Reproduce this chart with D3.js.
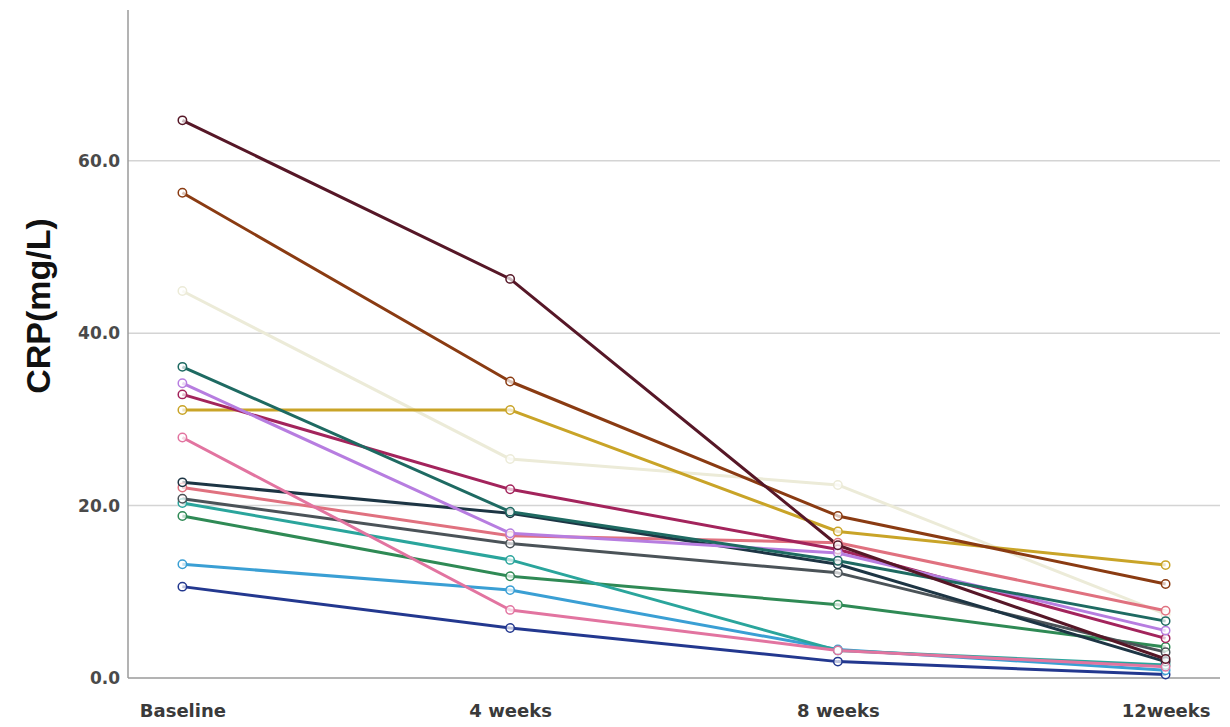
<!DOCTYPE html>
<html>
<head>
<meta charset="utf-8">
<script src="https://cdn.jsdelivr.net/npm/d3@7"></script>
<style>
  html, body { margin: 0; padding: 0; background: #ffffff; }
  svg { display: block; }
</style>
</head>
<body>
<svg id="chart" width="1230" height="727"></svg>
<script>
// Visit labels along the x axis
const visits = ["Baseline", "4 weeks", "8 weeks", "12weeks"];

// CRP per patient at each visit (mg/L)
const patientMaroon   = [64.7, 46.3, 15.4, 2.2];
const patientBrown    = [56.3, 34.4, 18.8, 10.9];
const patientCream    = [44.9, 25.4, 22.4, 7.4];
const patientDarkTeal = [36.1, 19.3, 13.6, 6.6];
const patientPurple   = [34.2, 16.8, 14.5, 5.5];
const patientCrimson  = [32.9, 21.9, 14.9, 4.6];
const patientGold     = [31.1, 31.1, 17.0, 13.1];
const patientPink     = [27.9, 7.9, 3.2, 1.3];
const patientSlate    = [22.7, 19.1, 13.2, 1.9];
const patientSalmon   = [22.1, 16.5, 15.7, 7.8];
const patientGrey     = [20.8, 15.6, 12.2, 3.0];
const patientCyan     = [20.3, 13.7, 3.2, 1.5];
const patientGreen    = [18.8, 11.8, 8.5, 3.6];
const patientSky      = [13.2, 10.2, 3.3, 0.9];
const patientNavy     = [10.6, 5.8, 1.9, 0.4];

const yTicks = [0, 20, 40, 60];
const yTickLabels = ["0.0", "20.0", "40.0", "60.0"];

const series = [
  { values: patientCream,    color: "#ecebd8" },
  { values: patientNavy,     color: "#23388f" },
  { values: patientSky,      color: "#3a9fd4" },
  { values: patientGreen,    color: "#2f8a55" },
  { values: patientCyan,     color: "#2aa59c" },
  { values: patientGrey,     color: "#4b5358" },
  { values: patientSalmon,   color: "#e0717f" },
  { values: patientSlate,    color: "#1d3544" },
  { values: patientPink,     color: "#e274a0" },
  { values: patientGold,     color: "#c9a428" },
  { values: patientCrimson,  color: "#a3245c" },
  { values: patientPurple,   color: "#b77de0" },
  { values: patientDarkTeal, color: "#1e6a62" },
  { values: patientBrown,    color: "#8a3b12" },
  { values: patientMaroon,   color: "#561727" }
];

const svg = d3.select("#chart");
const plotLeft = 128, plotRight = 1220, plotTop = 10, plotBottom = 678;

const x = d3.scalePoint().domain(visits).range([plotLeft, plotRight]).padding(0.166);
const y = d3.scaleLinear().domain([0, 77.5]).range([plotBottom, plotTop]);

// horizontal gridlines
svg.append("g")
  .selectAll("line")
  .data(yTicks.filter(d => d > 0))
  .join("line")
  .attr("x1", plotLeft).attr("x2", plotRight)
  .attr("y1", d => y(d)).attr("y2", d => y(d))
  .attr("stroke", "#d4d4d4").attr("stroke-width", 1.5);

// y axis
const yAxis = d3.axisLeft(y).tickValues(yTicks)
  .tickFormat((d, i) => yTickLabels[i]).tickSize(0).tickPadding(8);
const gy = svg.append("g").attr("transform", `translate(${plotLeft},0)`).call(yAxis);
gy.select(".domain").remove();
gy.selectAll("text")
  .attr("font-family", "DejaVu Sans, sans-serif")
  .attr("font-weight", "bold")
  .attr("font-size", 17)
  .attr("fill", "#4a4a4a");
svg.append("line")
  .attr("x1", plotLeft).attr("x2", plotLeft)
  .attr("y1", plotTop).attr("y2", plotBottom)
  .attr("stroke", "#9a9a9a").attr("stroke-width", 1.5);

// x axis
const xAxis = d3.axisBottom(x).tickSize(0).tickPadding(26);
const gx = svg.append("g").attr("transform", `translate(0,${plotBottom})`).call(xAxis);
gx.select(".domain").remove();
gx.selectAll("text")
  .attr("font-family", "DejaVu Sans, sans-serif")
  .attr("font-weight", "bold")
  .attr("font-size", 18)
  .attr("fill", "#3a3a3a");
svg.append("line")
  .attr("x1", plotLeft).attr("x2", plotRight)
  .attr("y1", plotBottom).attr("y2", plotBottom)
  .attr("stroke", "#9a9a9a").attr("stroke-width", 1.5);

// y axis title
svg.append("text")
  .attr("transform", `translate(50,306) rotate(-90)`)
  .attr("text-anchor", "middle")
  .attr("font-family", "Liberation Sans, Arial, sans-serif")
  .attr("font-weight", "bold")
  .attr("font-size", 34)
  .attr("fill", "#111")
  .text("CRP(mg/L)");

// patient trajectories
const line = d3.line().x((d, i) => x(visits[i])).y(d => y(d));
const gLines = svg.append("g");
series.forEach(s => {
  gLines.append("path")
    .attr("d", line(s.values))
    .attr("fill", "none")
    .attr("stroke", s.color)
    .attr("stroke-width", 3)
    .attr("stroke-linejoin", "round");
});
series.forEach(s => {
  gLines.append("g")
    .selectAll("circle")
    .data(s.values)
    .join("circle")
    .attr("cx", (d, i) => x(visits[i]))
    .attr("cy", d => y(d))
    .attr("r", 4.2)
    .attr("fill", "#ffffff")
    .attr("fill-opacity", 0.7)
    .attr("stroke", s.color)
    .attr("stroke-width", 1.5);
});
</script>
</body>
</html>
